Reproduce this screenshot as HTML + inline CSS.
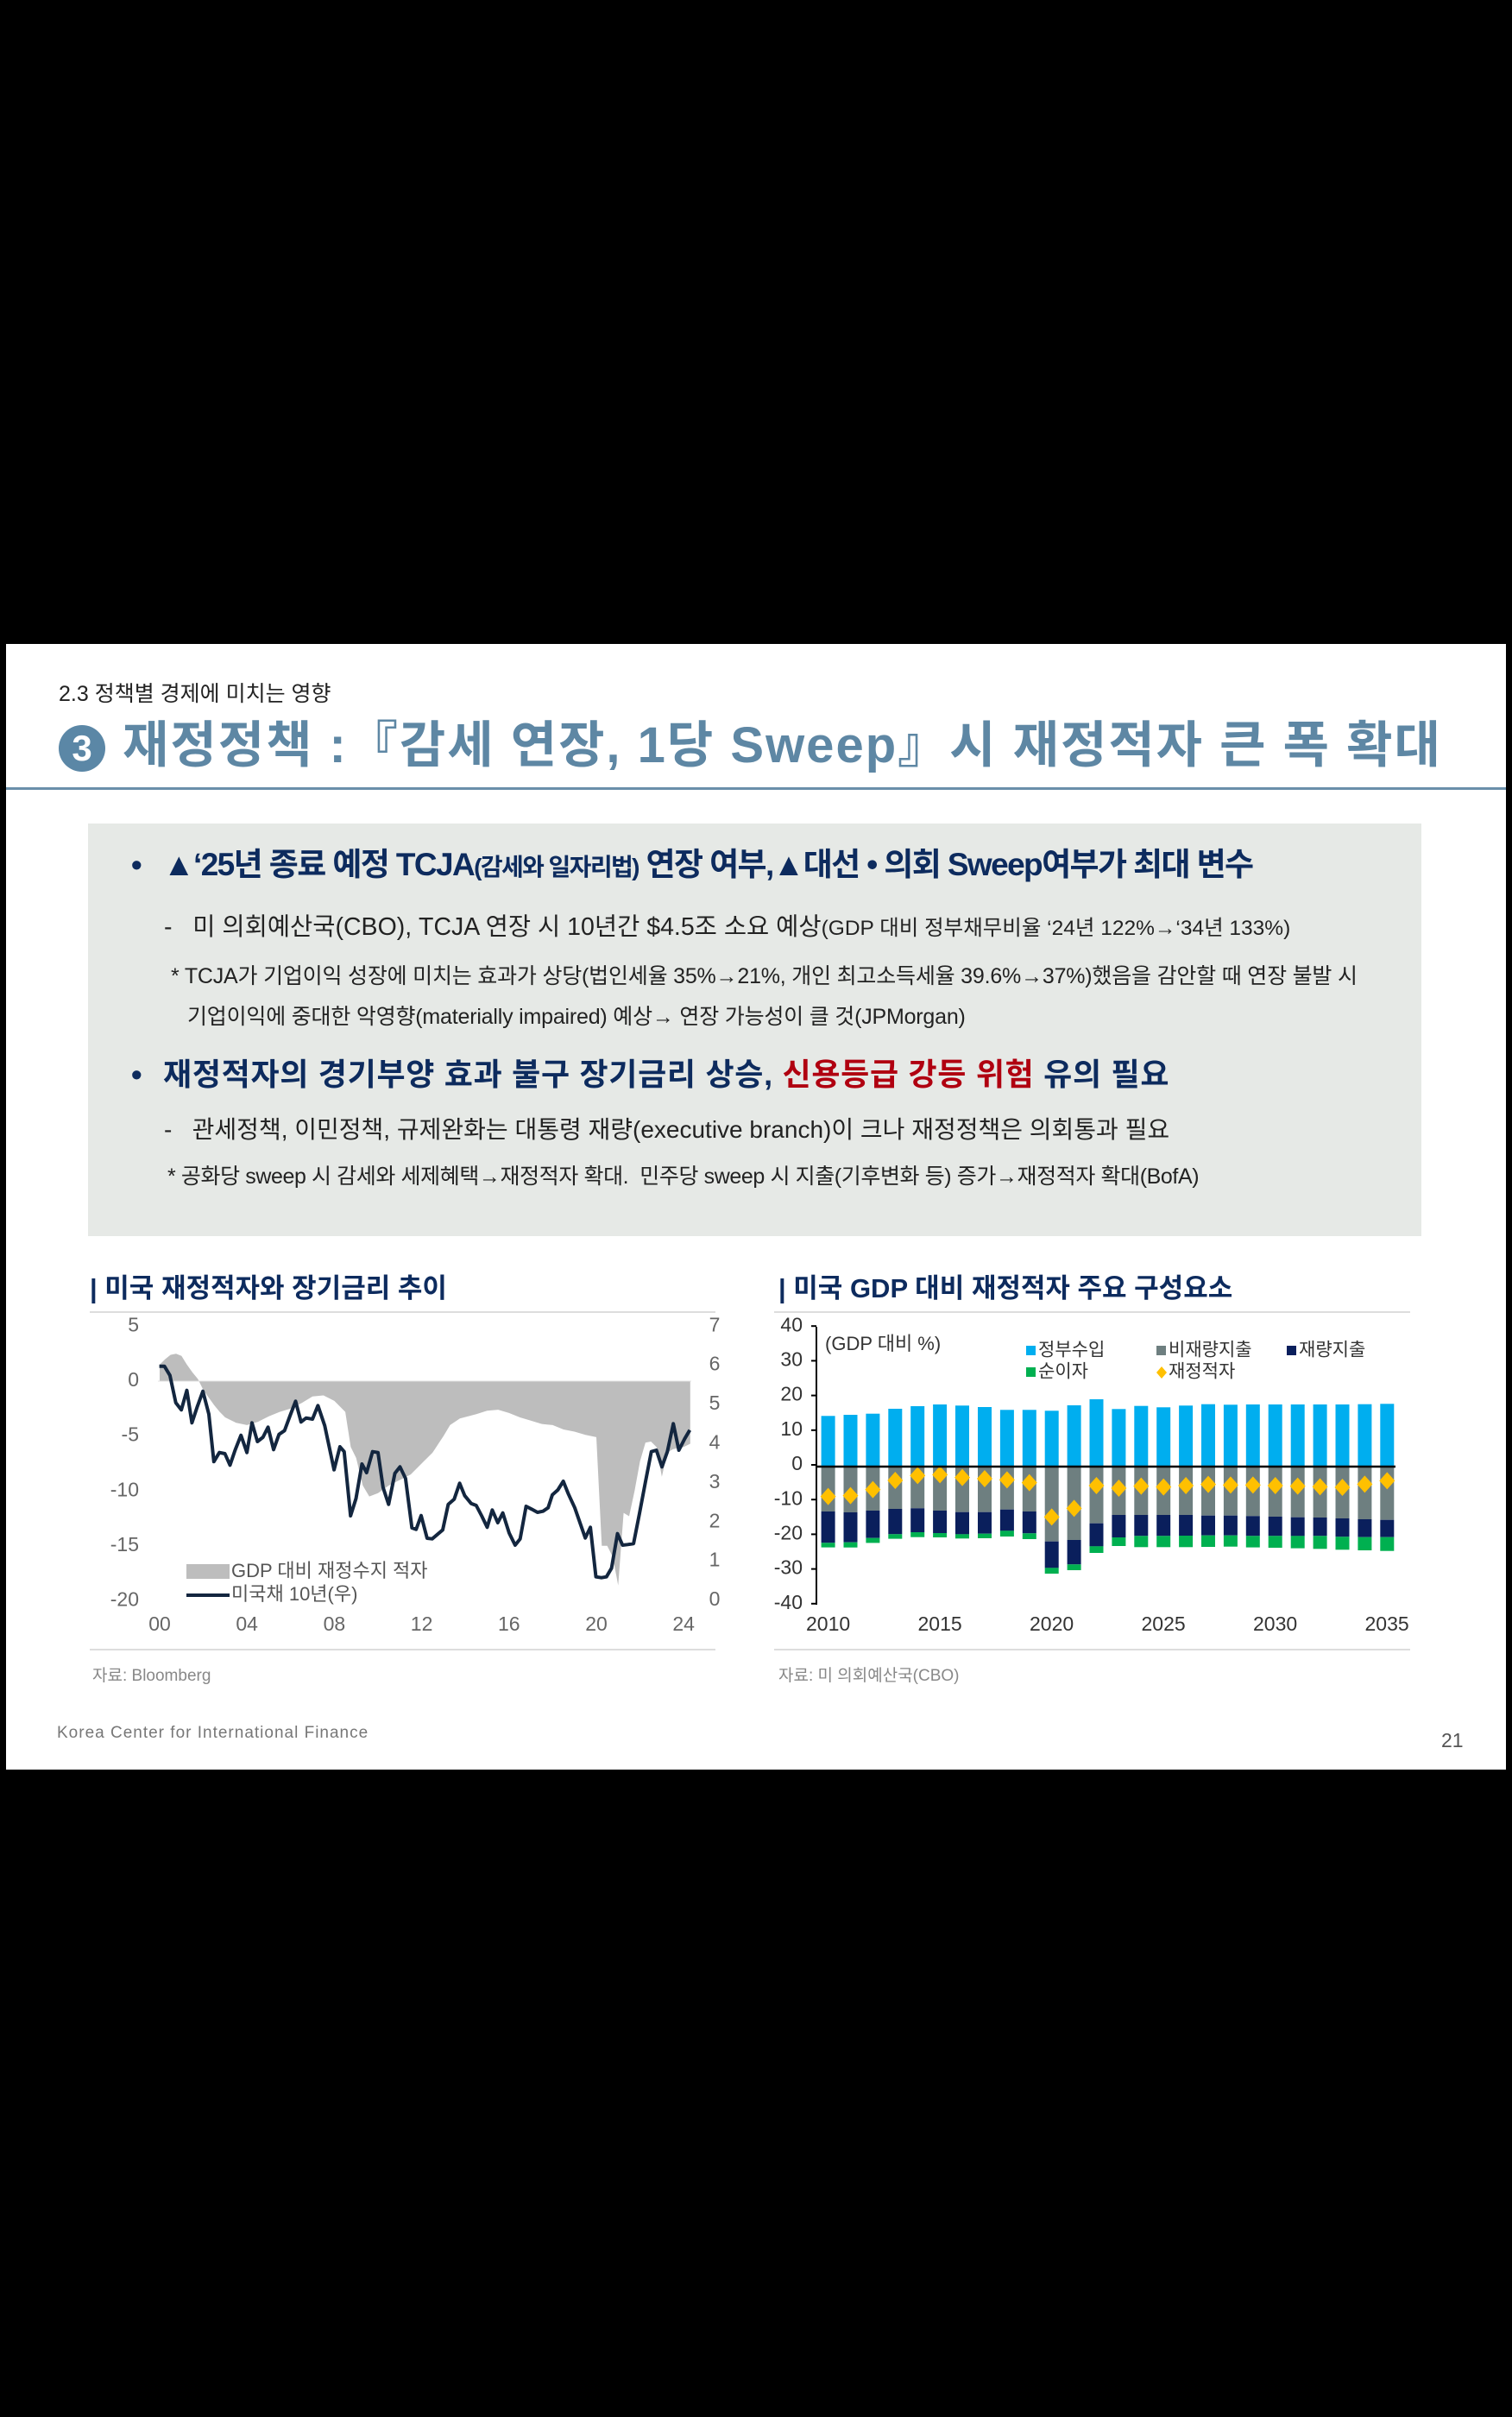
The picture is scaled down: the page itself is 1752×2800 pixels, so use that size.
<!DOCTYPE html>
<html><head><meta charset="utf-8">
<style>
html,body{margin:0;padding:0;}
body{width:1752px;height:2800px;background:#000;position:relative;overflow:hidden;font-family:"Liberation Sans","Noto Sans CJK KR",sans-serif;}
.slide{position:absolute;left:7px;top:746px;width:1738px;height:1304px;background:#fff;}
.t{position:absolute;white-space:nowrap;line-height:1;}
svg{position:absolute;left:0;top:0;}
</style></head><body>
<div class="slide"></div>
<div class="t" style="left:68px;top:792px;font-size:25px;color:#222;">2.3 정책별 경제에 미치는 영향</div>
<div style="position:absolute;left:68px;top:840px;width:54px;height:54px;border-radius:50%;background:#5b87a6;color:#fff;font:bold 42px 'Liberation Sans',sans-serif;text-align:center;line-height:54px;">3</div>
<div class="t" style="left:142px;top:835px;font-size:58px;font-weight:bold;color:#5e87a4;letter-spacing:2px;">재정정책 :『감세 연장, 1당 Sweep』시 재정적자 큰 폭 확대</div>
<div style="position:absolute;left:7px;top:912px;width:1738px;height:3px;background:#6a8faa;"></div>
<div style="position:absolute;left:102px;top:954px;width:1545px;height:478px;background:#e6e9e6;"></div>
<div class="t" style="left:152px;top:984px;font-size:36px;font-weight:bold;color:#0d2b5e;">•</div>
<div class="t" style="left:189px;top:983px;font-size:37px;font-weight:bold;color:#0d2b5e;letter-spacing:-1.6px;">▲‘25년 종료 예정 TCJA<span style="font-size:28px">(감세와 일자리법)</span> 연장 여부,▲대선 • 의회 Sweep여부가 최대 변수</div>
<div class="t" style="left:190px;top:1060px;font-size:28.5px;color:#222;">-&nbsp;&nbsp; 미 의회예산국(CBO), TCJA 연장 시 10년간 $4.5조 소요 예상<span style="font-size:24.5px">(GDP 대비 정부채무비율 ‘24년 122%→‘34년 133%)</span></div>
<div class="t" style="left:198px;top:1119px;font-size:25px;color:#222;letter-spacing:-0.2px;">* TCJA가 기업이익 성장에 미치는 효과가 상당(법인세율 35%→21%, 개인 최고소득세율 39.6%→37%)했음을 감안할 때 연장 불발 시</div>
<div class="t" style="left:217px;top:1166px;font-size:25px;color:#222;letter-spacing:-0.2px;">기업이익에 중대한 악영향(materially impaired) 예상→ 연장 가능성이 클 것(JPMorgan)</div>
<div class="t" style="left:152px;top:1227px;font-size:36px;font-weight:bold;color:#0d2b5e;">•</div>
<div class="t" style="left:189px;top:1227px;font-size:36px;font-weight:bold;color:#0d2b5e;letter-spacing:0.7px;">재정적자의 경기부양 효과 불구 장기금리 상승, <span style="color:#b00010">신용등급 강등 위험</span> 유의 필요</div>
<div class="t" style="left:190px;top:1295px;font-size:28px;color:#222;">-&nbsp;&nbsp; 관세정책, 이민정책, 규제완화는 대통령 재량(executive branch)이 크나 재정정책은 의회통과 필요</div>
<div class="t" style="left:194px;top:1351px;font-size:25px;color:#222;letter-spacing:-0.4px;">* 공화당 sweep 시 감세와 세제혜택→재정적자 확대.&nbsp; 민주당 sweep 시 지출(기후변화 등) 증가→재정적자 확대(BofA)</div>

<div class="t" style="left:104px;top:1477px;font-size:31px;font-weight:bold;color:#0d2b5e;">| 미국 재정적자와 장기금리 추이</div>
<div class="t" style="left:902px;top:1477px;font-size:31px;font-weight:bold;color:#0d2b5e;">| 미국 GDP 대비 재정적자 주요 구성요소</div>
<div class="t" style="left:107px;top:1932px;font-size:19px;color:#888;">자료: Bloomberg</div>
<div class="t" style="left:902px;top:1932px;font-size:19px;color:#888;">자료: 미 의회예산국(CBO)</div>
<div class="t" style="left:66px;top:1998px;font-size:19px;color:#777;letter-spacing:1px;">Korea Center for International Finance</div>
<div class="t" style="left:1670px;top:2005px;font-size:23px;color:#555;">21</div>

<svg id="s" width="1752" height="2800" xmlns="http://www.w3.org/2000/svg" font-family="Liberation Sans, Noto Sans CJK KR, sans-serif"></svg>
<script>
var s=document.getElementById('s'),h='';
function L(x1,y1,x2,y2,c,w){h+='<line x1="'+x1+'" y1="'+y1+'" x2="'+x2+'" y2="'+y2+'" stroke="'+c+'" stroke-width="'+w+'"/>';}
function T(x,y,t,a,sz,c){h+='<text x="'+x+'" y="'+y+'" text-anchor="'+a+'" font-size="'+sz+'" fill="'+(c||'#555')+'" dominant-baseline="middle">'+t+'</text>';}
L(104,1520,829,1520,'#ddd',2);L(104,1911,829,1911,'#ddd',2);
L(897,1520,1634,1520,'#ddd',2);L(897,1911,1634,1911,'#ddd',2);
var y0=1600,pu=12.72;
function ly(v){return y0-v*pu;}
var def=[[0,1.5],[0.25,2],[0.5,2.4],[0.75,2.5],[1,2.3],[1.25,1.5],[1.5,0.8],[1.75,0.2],[2,-0.8],[2.25,-1.5],[2.5,-2.2],[2.75,-2.8],[3,-3.3],[3.5,-3.8],[4,-4],[4.5,-3.7],[5,-3.2],[5.5,-2.8],[6,-2.5],[6.5,-2],[7,-1.4],[7.5,-1.3],[8,-1.8],[8.5,-2.8],[8.75,-6],[9,-7],[9.3,-9.5],[9.6,-10.5],[10,-10.2],[10.5,-9.5],[11,-9],[11.5,-8.5],[12,-7.5],[12.5,-6.5],[13,-5],[13.3,-4],[13.75,-3.4],[14.5,-3],[15,-2.7],[15.5,-2.6],[16,-2.9],[16.5,-3.3],[17,-3.6],[17.5,-3.9],[18,-4],[18.5,-4.4],[19,-4.6],[19.5,-4.9],[20,-5.1],[20.25,-15],[20.5,-15],[20.75,-16],[21,-18.6],[21.25,-12],[21.5,-12.3],[21.75,-10],[22,-7.3],[22.25,-5.6],[22.5,-5.5],[22.75,-6],[23,-8.7],[23.25,-6.5],[23.5,-6.2],[24,-6],[24.3,-5.7]];
var px=function(yr){return 185+yr*25.3;};
var d='M'+px(0)+','+y0;
def.forEach(function(p){d+=' L'+px(p[0]).toFixed(1)+','+ly(p[1]).toFixed(1);});
d+=' L'+px(24.3)+','+y0+' Z';
h+='<path d="'+d+'" fill="#bdbdbd"/>';
L(183,y0,801,y0,'#e0e0e0',1);
var yl=[[193,368],[205,368],[218,400],[232,495],[245,520],[258,452],[270,565],[283,508],[296,455],[310,535],[322,700],[335,668],[348,672],[360,712],[372,660],[386,608],[400,668],[412,565],[425,630],[438,615],[450,580],[463,658],[476,605],[489,592],[502,540],[515,490],[528,562],[540,548],[555,552],[568,505],[584,575],[606,728],[620,648],[630,665],[645,888],[658,828],[672,708],[683,738],[697,665],[710,668],[722,790],[735,848],[750,740],[762,718],[775,758],[790,930],[800,935],[812,887],[826,966],[838,968],[850,953],[863,937],[876,848],[890,830],[903,775],[915,818],[930,845],[942,852],[955,888],[968,928],[980,868],[993,912],[1005,878],[1020,948],[1034,990],[1046,968],[1060,855],[1073,865],[1087,876],[1100,872],[1112,860],[1122,815],[1135,798],[1148,768],[1160,812],[1175,860],[1200,965],[1212,928],[1225,1100],[1238,1103],[1250,1100],[1262,1070],[1276,950],[1288,990],[1300,988],[1314,985],[1328,880],[1342,772],[1356,665],[1368,660],[1381,718],[1394,665],[1408,568],[1421,660],[1435,620],[1447,590]];
var pts=yl.map(function(p){return (90+p[0]/2.04).toFixed(1)+','+(1460+p[1]/3).toFixed(1);}).join(' ');
h+='<polyline points="'+pts+'" fill="none" stroke="#13263f" stroke-width="4" stroke-linejoin="round"/>';
[[5,'5'],[0,'0'],[-5,'-5'],[-10,'-10'],[-15,'-15'],[-20,'-20']].forEach(function(v){T(161,ly(v[0]),v[1],'end',23,'#666');});
for(var i=0;i<=7;i++){T(828,1854-i*45.4,''+i,'middle',23,'#666');}
['00','04','08','12','16','20','24'].forEach(function(t,i){T(185+i*101.2,1883,t,'middle',23,'#666');});
h+='<rect x="216" y="1812" width="50" height="17" fill="#bdbdbd"/>';
T(268,1821,'GDP 대비 재정수지 적자','start',22,'#555');
L(216,1848,266,1848,'#13263f',4);
T(268,1848,'미국채 10년(우)','start',22,'#555');
function ry(z){return 1460+z/3;}
function rx(z){return 890+z/2.04;}
var rev=[541,537,533,516,507,501,505,510,520,520,523,504,483,517,506,511,505,500,502,501,501,501,501,501,500,499];
var man=[873,876,870,864,862,870,875,875,866,873,977,972,914,885,885,885,885,887,887,889,891,893,894,897,900,902];
var dis=[982,980,965,952,945,948,952,950,940,949,1069,1057,994,963,958,958,957,956,956,958,958,958,958,961,962,962];
var net=[998,998,982,968,962,963,967,966,960,969,1089,1077,1017,993,997,997,997,996,995,998,999,1001,1003,1006,1008,1010];
var dfc=[821,818,797,765,748,745,755,759,763,773,892,862,783,792,785,788,783,779,781,781,783,785,787,789,778,766];
var z0=ry(717);
function R(x,ya,yb,c){h+='<rect x="'+(x-8).toFixed(1)+'" y="'+Math.min(ya,yb).toFixed(1)+'" width="16" height="'+Math.abs(yb-ya).toFixed(1)+'" fill="'+c+'"/>';}
for(var i=0;i<26;i++){var cx=rx(142+i*52.85);
R(cx,ry(rev[i]),z0,'#00aeef');R(cx,z0,ry(man[i]),'#6e7f80');R(cx,ry(man[i]),ry(dis[i]),'#0a1f5c');R(cx,ry(dis[i]),ry(net[i]),'#00b050');}
for(var i=0;i<26;i++){var cx=rx(142+i*52.85),cy=ry(dfc[i]);
h+='<polygon points="'+cx+','+(cy-10)+' '+(cx+9)+','+cy+' '+cx+','+(cy+10)+' '+(cx-9)+','+cy+'" fill="#ffc000"/>';}
L(946,z0,1617,z0,'#000',2.5);
L(946,1537,946,1859,'#000',2);
for(var v=40;v>=-40;v-=10){var yy=1697-v*4.02;L(940,yy,946,yy,'#000',2);T(930,yy,''+v,'end',23,'#333');}
['2010','2015','2020','2025','2030','2035'].forEach(function(t,i){T(rx(142)+i*5*25.9,1883,t,'middle',23,'#333');});
T(956,1558,'(GDP 대비 %)','start',22,'#333');
h+='<rect x="1189" y="1559" width="11" height="11" fill="#00aeef"/>';T(1203,1565,'정부수입','start',21,'#333');
h+='<rect x="1340" y="1559" width="11" height="11" fill="#6e7f80"/>';T(1354,1565,'비재량지출','start',21,'#333');
h+='<rect x="1491" y="1559" width="11" height="11" fill="#0a1f5c"/>';T(1505,1565,'재량지출','start',21,'#333');
h+='<rect x="1189" y="1584" width="11" height="11" fill="#00b050"/>';T(1203,1590,'순이자','start',21,'#333');
h+='<polygon points="1346,1583 1352,1590 1346,1597 1340,1590" fill="#ffc000"/>';T(1354,1590,'재정적자','start',21,'#333');
s.innerHTML=h;
</script>
</body></html>
